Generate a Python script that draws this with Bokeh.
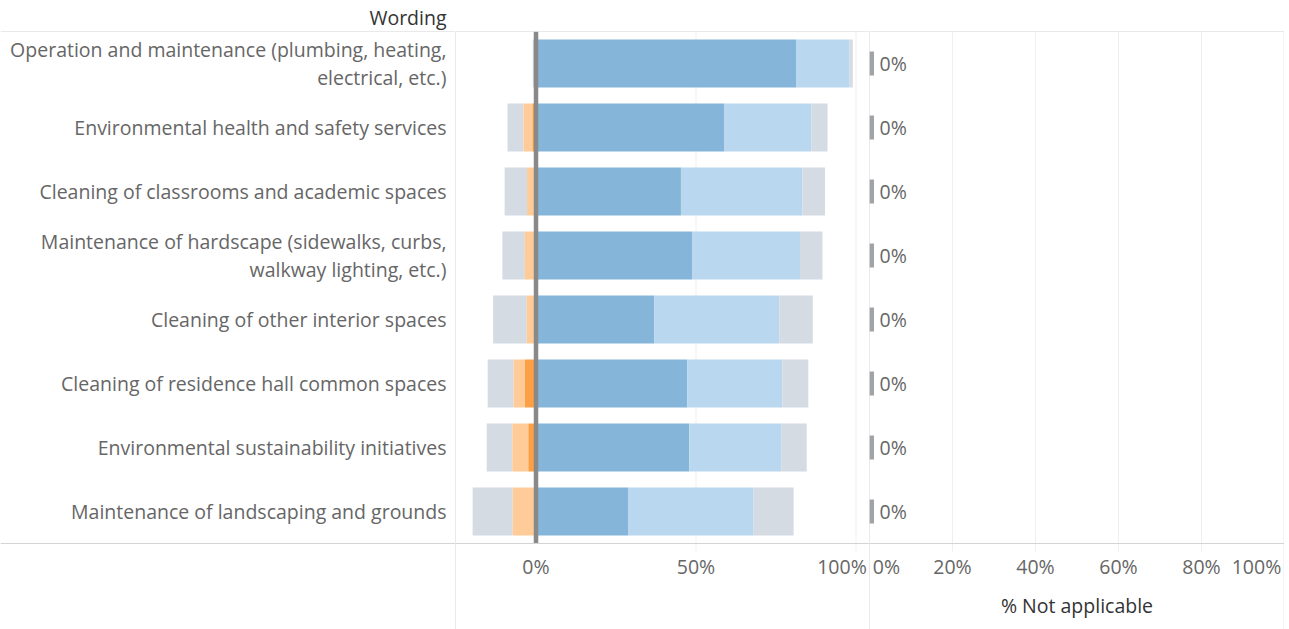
from bokeh.plotting import figure
from bokeh.models import Range1d, Span, FixedTicker, ColumnDataSource
from bokeh.layouts import row
from bokeh.embed import file_html
from bokeh.resources import INLINE
from bokeh.core.properties import value

# ---------------- data (percent) ----------------
categories = [
    "Operation and maintenance (plumbing, heating,\nelectrical, etc.)",
    "Environmental health and safety services",
    "Cleaning of classrooms and academic spaces",
    "Maintenance of hardscape (sidewalks, curbs,\nwalkway lighting, etc.)",
    "Cleaning of other interior spaces",
    "Cleaning of residence hall common spaces",
    "Environmental sustainability initiatives",
    "Maintenance of landscaping and grounds",
]
very_dissatisfied = [0.0, 1.1, 0.3, 0.0, 0.3, 3.5, 2.4, 0.3]
dissatisfied      = [0.0, 2.8, 2.5, 3.5, 2.6, 3.5, 5.0, 7.0]
neutral           = [2.0, 10.0, 14.0, 14.0, 21.0, 16.2, 16.0, 25.0]
satisfied         = [16.6, 27.2, 38.0, 33.6, 39.0, 29.7, 28.7, 39.1]
very_satisfied    = [81.4, 58.9, 45.3, 48.9, 37.0, 47.3, 47.9, 28.9]
not_applicable    = [0.0, 0.0, 0.0, 0.0, 0.0, 0.0, 0.0, 0.0]

left_ticks = [0.0, 0.5, 1.0]
right_ticks = [0.0, 0.2, 0.4, 0.6, 0.8, 1.0]
header_label = "Wording"
right_axis_title = "% Not applicable"

# ---------------- styling ----------------
FONT = "Open Sans"
FS = "19.5px"
C_TEXT = "#666666"
C_DARK = "#333333"
C_LINE = "#d4d4d4"
C_GRID = "#efefef"
C_VS = "#85b6da"
C_S = "#b9d7ee"
C_N = "#d4dbe3"
C_D = "#fecb99"
C_VD = "#fd9f44"
C_ZERO = "#898989"
C_NA = "#a0a4a8"

ROW_PX = 64
TOP_PX = 31       # header space above the rows
BOTTOM_PX = 86    # axis area below the rows
H = 629
W_A, W_B, W_C = 455, 414, 415

n = len(categories)
idx = list(range(n))
f = lambda v: [x / 100.0 for x in v]
vd, d, ne, s, vs, na = map(f, (very_dissatisfied, dissatisfied, neutral,
                               satisfied, very_satisfied, not_applicable))

src = ColumnDataSource(dict(
    y=idx,
    vd_l=[-a for a in vd], vd_r=[0.0] * n,
    d_l=[-(a + b) for a, b in zip(vd, d)], d_r=[-a for a in vd],
    n_l=[-(a + b + c / 2) for a, b, c in zip(vd, d, ne)], n_r=[-(a + b) for a, b in zip(vd, d)],
    vs_l=[0.0] * n, vs_r=vs,
    s_l=vs, s_r=[a + b for a, b in zip(vs, s)],
    n2_l=[a + b for a, b in zip(vs, s)], n2_r=[a + b + c / 2 for a, b, c in zip(vs, s, ne)],
    na=na, na_lab=[f"{v:.0f}%" for v in not_applicable],
    label=categories,
))

y_bottom = n - 0.5 + BOTTOM_PX / ROW_PX
y_top = -0.5


def base_fig(width, x_range, title=None):
    p = figure(width=width, height=H, x_range=x_range, y_range=Range1d(y_bottom, y_top),
               output_backend="svg", toolbar_location=None, title=title,
               min_border_top=TOP_PX, min_border_bottom=0,
               min_border_left=0, min_border_right=0,
               y_axis_location=None)
    p.outline_line_color = None
    p.xgrid.visible = False
    p.ygrid.visible = False
    p.background_fill_color = "white"
    p.border_fill_color = "white"
    return p


# ---------------- labels column ----------------
pa = base_fig(W_A, Range1d(0, 1), title=header_label)
pa.title.align = "right"
pa.title.offset = 9
pa.title.standoff = 2
pa.title.text_font = FONT
pa.title.text_font_size = FS
pa.title.text_font_style = "normal"
pa.title.text_color = C_DARK
pa.xaxis.visible = False
pa.text(x=1, y="y", text="label", source=src, x_offset=-9,
        text_align="right", text_baseline="middle", text_line_height=1.07,
        text_font=value(FONT), text_font_size=FS, text_color=C_TEXT)
for loc in (y_top, n - 0.5):
    pa.add_layout(Span(location=loc, dimension="width", line_color=C_LINE, line_width=1))

# ---------------- diverging bar panel ----------------
px_unit = 320.0
zero_px = 80.5
xr_b = Range1d(-zero_px / px_unit, (W_B - zero_px) / px_unit)
pb = base_fig(W_B, xr_b)
gy1 = n - 0.5 + 8 / ROW_PX
pb.segment(x0=left_ticks[1:], x1=left_ticks[1:], y0=[y_top] * 2, y1=[gy1] * 2,
           line_color=C_GRID, line_width=1)
h = 0.75
for l, r, c in (("n_l", "n_r", C_N), ("d_l", "d_r", C_D), ("vd_l", "vd_r", C_VD),
                ("vs_l", "vs_r", C_VS), ("s_l", "s_r", C_S), ("n2_l", "n2_r", C_N)):
    pb.hbar(y="y", left=l, right=r, height=h, source=src, fill_color=c, line_color=None)
pb.segment(x0=[0], x1=[0], y0=[y_top], y1=[n - 0.5], line_color=C_ZERO, line_width=4.5)

# ---------------- not-applicable panel ----------------
pc = base_fig(W_C, Range1d(0, 1))
pc.segment(x0=right_ticks[1:-1], x1=right_ticks[1:-1], y0=[y_top] * 4, y1=[gy1] * 4,
           line_color=C_GRID, line_width=1)
pc.rect(x="na", y="y", width=9, width_units="screen", height=0.375, source=src,
        fill_color=C_NA, line_color=None)
pc.text(x="na", y="y", text="na_lab", source=src, x_offset=10,
        text_align="left", text_baseline="middle",
        text_font=value(FONT), text_font_size=FS, text_color=C_TEXT)

for p in (pb, pc):
    p.add_layout(Span(location=y_top, dimension="width", line_color=C_LINE, line_width=1))
    p.add_layout(Span(location=n - 0.5, dimension="width", line_color=C_LINE, line_width=1))
    p.add_layout(Span(location=p.x_range.start, dimension="height", line_color=C_LINE, line_width=1))
pc.add_layout(Span(location=1.0, dimension="height", line_color=C_LINE, line_width=1.5))


def style_axis(p, ticks, shifts, px):
    ax = p.xaxis[0]
    ax.fixed_location = n - 0.5
    pos = [t + sh / px for t, sh in zip(ticks, shifts)]
    ax.ticker = FixedTicker(ticks=pos)
    ax.major_label_overrides = {pp: f"{t * 100:.0f}%" for pp, t in zip(pos, ticks)}
    ax.axis_line_color = None
    ax.major_tick_line_color = None
    ax.minor_tick_line_color = None
    ax.major_tick_out = 0
    ax.major_tick_in = 0
    ax.major_label_standoff = 9
    ax.major_label_text_font = FONT
    ax.major_label_text_font_size = FS
    ax.major_label_text_color = C_TEXT


style_axis(pb, left_ticks, [0, 0, -14], px_unit)
style_axis(pc, right_ticks, [17, 0, 0, 0, 0, -28], float(W_C))
pc.xaxis.axis_label = right_axis_title
pc.xaxis.axis_label_text_font = FONT
pc.xaxis.axis_label_text_font_size = FS
pc.xaxis.axis_label_text_font_style = "normal"
pc.xaxis.axis_label_text_color = C_DARK
pc.xaxis.axis_label_standoff = 9

layout = row(pa, pb, pc)
open("out.html", "w").write(file_html(layout, INLINE))
